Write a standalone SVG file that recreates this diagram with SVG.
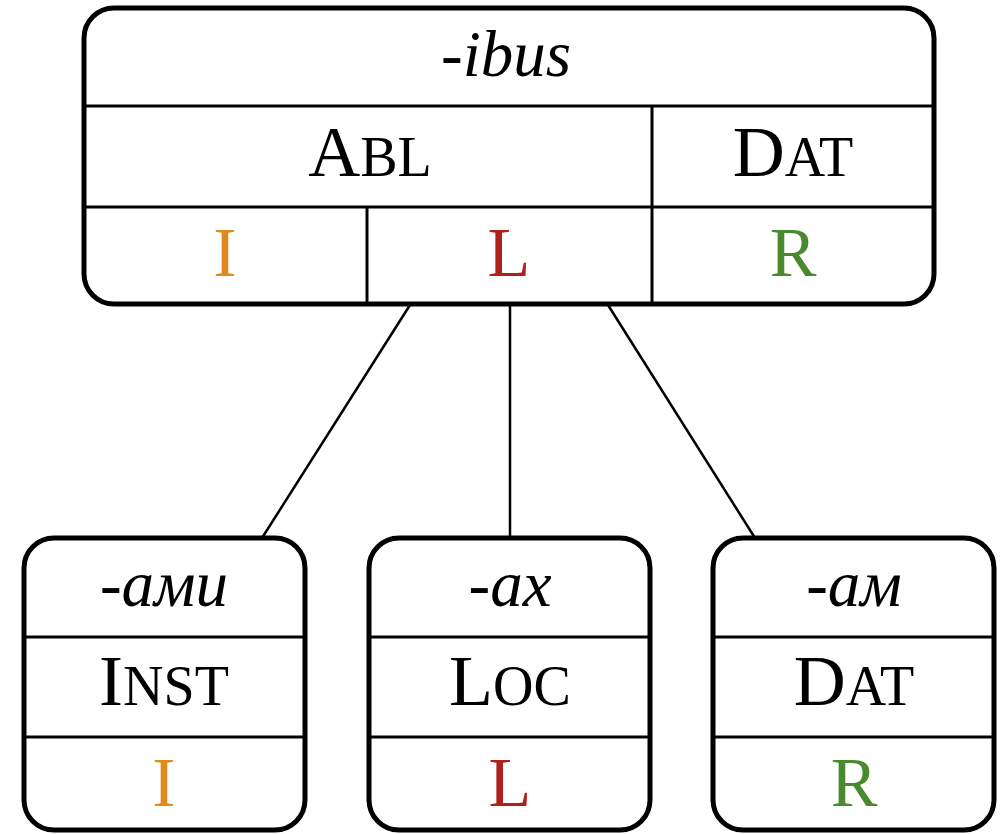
<svg xmlns="http://www.w3.org/2000/svg" width="1001" height="834" viewBox="0 0 1001 834">
  <style>
    .frame { fill: #fff; stroke: #000; stroke-width: 5; }
    .div { stroke: #000; stroke-width: 3; fill: none; }
    .edge { stroke: #000; stroke-width: 2.5; fill: none; }
    text { font-family: "Liberation Serif", "Times New Roman", serif; text-anchor: middle; fill: #000; }
    .suf { font-style: italic; font-size: 65px; }
    .case { font-size: 72px; }
    .sc { font-size: 56px; }
    .tag { font-size: 70px; }
    .i { fill: #e08a1e; }
    .l { fill: #b0201a; }
    .r { fill: #4a8a2e; }
  </style>

  <g id="connectors">
    <line class="edge" x1="410" y1="305" x2="262" y2="538"/>
    <line class="edge" x1="510" y1="305" x2="510" y2="538"/>
    <line class="edge" x1="608" y1="305" x2="755" y2="538"/>
  </g>

  <g id="node-ibus">
    <rect class="frame" x="84" y="8" width="850" height="296" rx="30"/>
    <line class="div" x1="84" y1="106" x2="934" y2="106"/>
    <line class="div" x1="84" y1="207" x2="934" y2="207"/>
    <line class="div" x1="652" y1="106" x2="652" y2="304"/>
    <line class="div" x1="367" y1="207" x2="367" y2="304"/>
    <text class="suf" x="506" y="76">-ibus</text>
    <text class="case" x="370" y="176">A<tspan class="sc">BL</tspan></text>
    <text class="case" x="793" y="176">D<tspan class="sc">AT</tspan></text>
    <text class="tag i" x="225" y="276">I</text>
    <text class="tag l" x="509" y="276">L</text>
    <text class="tag r" x="793" y="276">R</text>
  </g>

  <g id="node-ami">
    <rect class="frame" x="24" y="538" width="281" height="292" rx="30"/>
    <line class="div" x1="24" y1="637" x2="305" y2="637"/>
    <line class="div" x1="24" y1="737" x2="305" y2="737"/>
    <text class="suf" x="164" y="606">-ами</text>
    <text class="case" x="164" y="705">I<tspan class="sc">NST</tspan></text>
    <text class="tag i" x="164" y="806">I</text>
  </g>

  <g id="node-ah">
    <rect class="frame" x="369" y="538" width="281" height="292" rx="30"/>
    <line class="div" x1="369" y1="637" x2="650" y2="637"/>
    <line class="div" x1="369" y1="737" x2="650" y2="737"/>
    <text class="suf" x="510" y="606">-ах</text>
    <text class="case" x="510" y="705">L<tspan class="sc">OC</tspan></text>
    <text class="tag l" x="510" y="806">L</text>
  </g>

  <g id="node-am">
    <rect class="frame" x="713" y="538" width="281" height="292" rx="30"/>
    <line class="div" x1="713" y1="637" x2="994" y2="637"/>
    <line class="div" x1="713" y1="737" x2="994" y2="737"/>
    <text class="suf" x="854" y="606">-ам</text>
    <text class="case" x="854" y="705">D<tspan class="sc">AT</tspan></text>
    <text class="tag r" x="854" y="806">R</text>
  </g>
</svg>
